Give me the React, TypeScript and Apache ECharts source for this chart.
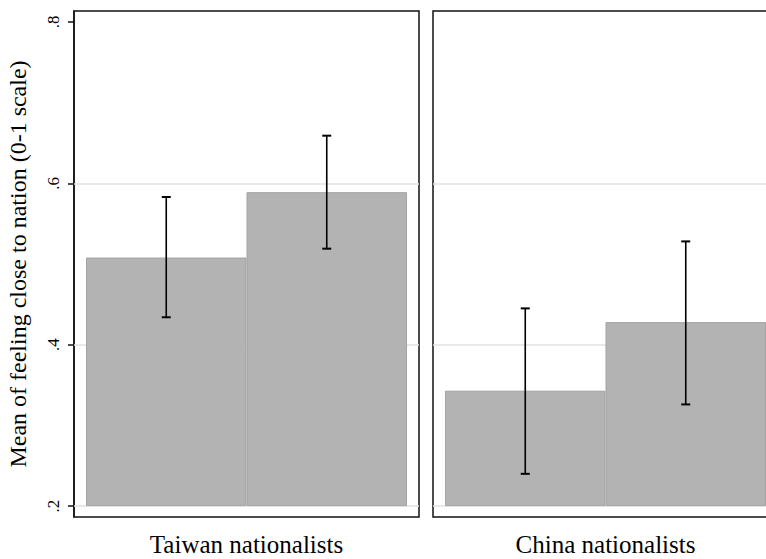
import React, { useEffect, useRef } from "react";
import * as echarts from "echarts";

// ---- data ----
const CATEGORIES = ["Taiwan nationalists", "China nationalists"];
const BAR_BASE = 0.2;
const MEANS_FIRST = [0.508, 0.343];
const MEANS_SECOND = [0.589, 0.428];
const LOW_FIRST = [0.434, 0.24];
const HIGH_FIRST = [0.583, 0.445];
const LOW_SECOND = [0.519, 0.326];
const HIGH_SECOND = [0.659, 0.528];
const Y_TICKS = [0.2, 0.4, 0.6, 0.8];
const GRID_LINES = [0.2, 0.4, 0.6];
const Y_MIN = 0.1865;
const Y_MAX = 0.8135;
const Y_TITLE = "Mean of feeling close to nation (0-1 scale)";

const FONT = "Liberation Serif, Times New Roman, serif";
const BAR_W = 160.5;
const BAR_COLOR = "#b3b3b3";

function fmtTick(v: number): string {
  return v.toFixed(1).replace(/^0/, "");
}

export default function App() {
  const ref = useRef<HTMLDivElement>(null);

  useEffect(() => {
    if (!ref.current) return;
    const chart = echarts.init(ref.current, undefined, { renderer: "svg" });

    const grids = [
      { left: 74, top: 11, width: 345, height: 506 },
      { left: 433, top: 11, width: 345, height: 506 },
    ].map((g) => ({
      ...g,
      show: true,
      borderColor: "#111",
      borderWidth: 1.5,
      backgroundColor: "transparent",
      containLabel: false,
      outerBoundsMode: "none",
    }));

    const xAxes = CATEGORIES.map((c, i) => ({
      type: "category",
      gridIndex: i,
      data: [c],
      axisLine: { show: false },
      axisTick: { show: false },
      axisLabel: {
        color: "#000",
        fontFamily: FONT,
        fontSize: 25,
        margin: 15,
      },
      splitLine: { show: false },
    }));

    const yAxes = CATEGORIES.map((_, i) => ({
      type: "value",
      gridIndex: i,
      min: Y_MIN,
      max: Y_MAX,
      splitNumber: 3,
      name: i === 0 ? Y_TITLE : "",
      nameLocation: "middle",
      nameGap: 44,
      nameTextStyle: { color: "#000", fontFamily: FONT, fontSize: 24 },
      axisLine: { show: i === 0, lineStyle: { color: "#111", width: 1.5 } },
      axisTick: {
        show: i === 0,
        length: 6,
        customValues: Y_TICKS,
        lineStyle: { color: "#111", width: 1.5 },
      },
      axisLabel: {
        show: i === 0,
        customValues: Y_TICKS,
        rotate: 90,
        margin: 12,
        color: "#000",
        fontFamily: FONT,
        fontSize: 17,
        formatter: (v: number) => fmtTick(v),
      },
      splitLine: { show: false },
    }));

    const series: any[] = [];
    CATEGORIES.forEach((_, i) => {
      const common = {
        type: "bar",
        xAxisIndex: i,
        yAxisIndex: i,
        barWidth: BAR_W,
        barGap: "0%",
        z: 2,
      };
      series.push({
        ...common,
        name: "base1",
        stack: "s1-" + i,
        itemStyle: { color: "transparent" },
        data: [BAR_BASE],
        markLine: {
          silent: true,
          symbol: "none",
          z: 1,
          label: { show: false },
          lineStyle: { color: "#e2e2e2", width: 1.5, type: "solid" },
          data: GRID_LINES.map((v) => ({ yAxis: v })),
        },
      });
      series.push({
        ...common,
        name: "first",
        stack: "s1-" + i,
        itemStyle: { color: BAR_COLOR, borderColor: "#a3a3a3", borderWidth: 1 },
        data: [MEANS_FIRST[i] - BAR_BASE],
      });
      series.push({
        ...common,
        name: "base2",
        stack: "s2-" + i,
        itemStyle: { color: "transparent" },
        data: [BAR_BASE],
      });
      series.push({
        ...common,
        name: "second",
        stack: "s2-" + i,
        itemStyle: { color: BAR_COLOR, borderColor: "#a3a3a3", borderWidth: 1 },
        data: [MEANS_SECOND[i] - BAR_BASE],
      });
      series.push({
        type: "custom",
        xAxisIndex: i,
        yAxisIndex: i,
        z: 5,
        data: [
          [0, LOW_FIRST[i], HIGH_FIRST[i], -1],
          [0, LOW_SECOND[i], HIGH_SECOND[i], 1],
        ],
        encode: { x: 0, y: [1, 2] },
        renderItem: (params: any, api: any) => {
          const cat = api.value(0);
          const lo = api.coord([cat, api.value(1)]);
          const hi = api.coord([cat, api.value(2)]);
          const side = api.value(3);
          const x = lo[0] + (side * BAR_W) / 2;
          const cap = 4.5;
          const style = { stroke: "#000", lineWidth: 1.6 };
          return {
            type: "group",
            children: [
              { type: "line", shape: { x1: x, y1: lo[1], x2: x, y2: hi[1] }, style },
              { type: "line", shape: { x1: x - cap, y1: lo[1], x2: x + cap, y2: lo[1] }, style: { stroke: "#000", lineWidth: 2 } },
              { type: "line", shape: { x1: x - cap, y1: hi[1], x2: x + cap, y2: hi[1] }, style: { stroke: "#000", lineWidth: 2 } },
            ],
          };
        },
      });
    });

    chart.setOption({
      animation: false,
      backgroundColor: "#fff",
      textStyle: { fontFamily: FONT },
      grid: grids,
      xAxis: xAxes,
      yAxis: yAxes,
      series,
    });

    return () => chart.dispose();
  }, []);

  return (
    <div
      ref={ref}
      style={{ position: "absolute", left: 0, top: 0, width: 766, height: 559 }}
    />
  );
}
